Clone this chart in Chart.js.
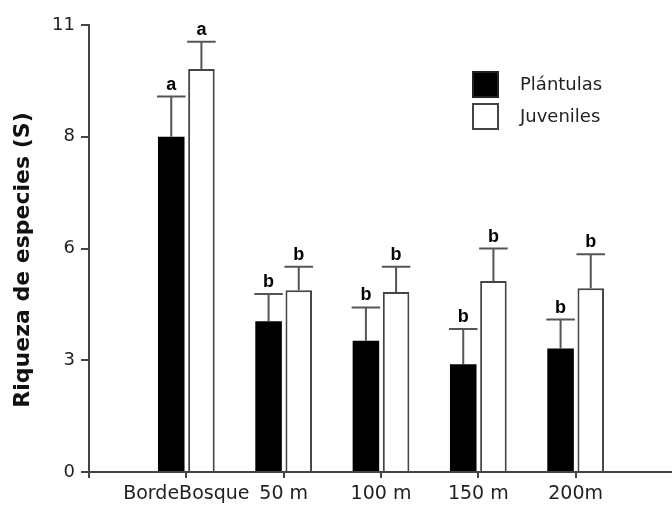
<!DOCTYPE html>
<html>
<head>
<meta charset="utf-8">
<script src="https://cdn.jsdelivr.net/npm/chart.js@4.4.1/dist/chart.umd.min.js"></script>
<style>
  html, body { margin: 0; padding: 0; background: #fff; overflow: hidden; }
  #wrap { width: 678px; height: 506px; }
</style>
</head>
<body>
<div id="wrap"><canvas id="grafico" width="678" height="506"></canvas></div>
<script>
// datos
const categorias = ['BordeBosque', '50 m', '100 m', '150 m', '200m'];
const plantulas = [8.25, 3.71, 3.23, 2.65, 3.04];
const plantulasEE = [0.99, 0.67, 0.82, 0.87, 0.71];
const juveniles = [9.92, 4.47, 4.43, 4.70, 4.52];
const juvenilesEE = [0.67, 0.58, 0.62, 0.80, 0.84];
const letrasPlantulas = ['a', 'b', 'b', 'b', 'b'];
const letrasJuveniles = ['a', 'b', 'b', 'b', 'b'];
const yTickLabels = ['0', '3', '6', '8', '11'];
const yMax = 11;

// eje x con un hueco vacio a cada lado
const etiquetas = [''].concat(categorias, ['']);
const pad = arr => [null].concat(arr, [null]);

const errores = [plantulasEE, juvenilesEE];
const letras = [letrasPlantulas, letrasJuveniles];

const ejeColor = '#444';

// barras de error + letras
const errorBars = {
  id: 'errorBars',
  afterDatasetsDraw(chart) {
    const ctx = chart.ctx;
    const y = chart.scales.y;
    ctx.save();
    chart.data.datasets.forEach((ds, d) => {
      const meta = chart.getDatasetMeta(d);
      meta.data.forEach((bar, j) => {
        const i = j - 1;
        if (i < 0 || i >= categorias.length) return;
        const v = ds.data[j];
        const top = y.getPixelForValue(v + errores[d][i]);
        const half = bar.width / 2 + 1;
        ctx.strokeStyle = '#555';
        ctx.lineWidth = 2;
        ctx.beginPath();
        ctx.moveTo(bar.x, bar.y);
        ctx.lineTo(bar.x, top);
        ctx.moveTo(bar.x - half, top);
        ctx.lineTo(bar.x + half, top);
        ctx.stroke();
        ctx.fillStyle = '#000';
        ctx.font = 'bold 18px "Liberation Sans", Arial, sans-serif';
        ctx.textAlign = 'center';
        ctx.textBaseline = 'alphabetic';
        ctx.fillText(letras[d][i], bar.x, top - 7);
      });
    });
    ctx.restore();
  }
};

// leyenda dibujada a mano
const leyenda = {
  id: 'leyenda',
  afterDraw(chart) {
    const ctx = chart.ctx;
    ctx.save();
    chart.data.datasets.forEach((ds, d) => {
      const x = 472, yy = 71 + d * 32;
      ctx.fillStyle = ds.backgroundColor;
      ctx.fillRect(x, yy, 27, 27);
      ctx.strokeStyle = ds.borderColor;
      ctx.lineWidth = 2;
      ctx.strokeRect(x + 1, yy + 1, 25, 25);
      ctx.fillStyle = '#222';
      ctx.font = '18px "DejaVu Sans", sans-serif';
      ctx.textAlign = 'left';
      ctx.textBaseline = 'middle';
      ctx.fillText(ds.label, 520, yy + 14);
    });
    ctx.restore();
  }
};

new Chart(document.getElementById('grafico'), {
  type: 'bar',
  data: {
    labels: etiquetas,
    datasets: [
      {
        label: 'Plántulas',
        data: pad(plantulas),
        backgroundColor: '#000',
        borderColor: '#222',
        borderWidth: 0,
        categoryPercentage: 0.62,
        barPercentage: 0.88
      },
      {
        label: 'Juveniles',
        data: pad(juveniles),
        backgroundColor: '#fff',
        borderColor: '#444',
        borderWidth: 2,
        borderSkipped: 'bottom',
        categoryPercentage: 0.62,
        barPercentage: 0.88
      }
    ]
  },
  options: {
    responsive: false,
    animation: false,
    layout: { padding: { top: 25, left: 0, right: 0, bottom: 0 } },
    plugins: {
      legend: { display: false },
      tooltip: { enabled: false }
    },
    scales: {
      x: {
        offset: false,
        grid: { offset: false, drawOnChartArea: false, drawTicks: true, tickLength: 6, color: ejeColor, lineWidth: 2 },
        border: { color: ejeColor, width: 2 },
        ticks: {
          color: '#222',
          padding: 5,
          maxRotation: 0,
          autoSkip: false,
          font: { family: '"DejaVu Sans", sans-serif', size: 19 }
        },
        afterFit(scale) { scale.height = 34; }
      },
      y: {
        min: 0,
        max: yMax,
        grid: { drawOnChartArea: false, drawTicks: true, tickLength: 8, color: ejeColor, lineWidth: 2 },
        border: { color: ejeColor, width: 2 },
        ticks: {
          stepSize: yMax / 4,
          color: '#222',
          padding: 6,
          font: { family: '"DejaVu Sans", sans-serif', size: 18 },
          callback: (v, i) => yTickLabels[i]
        },
        title: {
          display: true,
          text: 'Riqueza de especies (S)   ',
          color: '#111',
          padding: { top: 10, bottom: 0 },
          font: { family: '"DejaVu Sans", sans-serif', size: 22, weight: 'bold' }
        },
        afterFit(scale) { scale.width = 89; }
      }
    }
  },
  plugins: [errorBars, leyenda]
});
</script>
</body>
</html>
